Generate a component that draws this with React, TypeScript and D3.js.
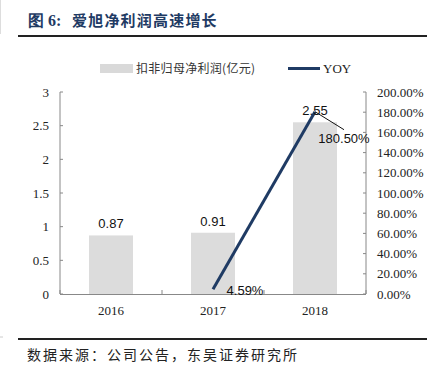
import React from "react";
import * as d3 from "d3";

const categories = ["2016", "2017", "2018"];
const profit = [0.87, 0.91, 2.55];
const yoy: (number | null)[] = [null, 4.59, 180.5];
const profitLabels = ["0.87", "0.91", "2.55"];
const yoyLabels = ["", "4.59%", "180.50%"];
const leftTicks = [0, 0.5, 1, 1.5, 2, 2.5, 3];
const rightTicks = [0, 20, 40, 60, 80, 100, 120, 140, 160, 180, 200];
const titlePrefix = "图 6:";
const title = "爱旭净利润高速增长";
const source = "数据来源：公司公告，东吴证券研究所";
const legendBar = "扣非归母净利润(亿元)";
const legendLine = "YOY";

const W = 435, H = 376;
const left = 60, right = 366, top = 92, bottom = 294;
const navy = "#1F3B64";
const serif = "'Liberation Serif', 'Times New Roman', serif";
const sans = "'Liberation Sans', Arial, sans-serif";
const cjk = "'Noto Sans CJK SC', sans-serif";

export default function App() {
  const x = d3.scaleBand<string>().domain(categories).range([left, right]).paddingInner(0).paddingOuter(0);
  const yL = d3.scaleLinear().domain([0, 3]).range([bottom, top]);
  const yR = d3.scaleLinear().domain([0, 200]).range([bottom, top]);
  const bw = 44;
  const cx = (c: string) => (x(c) as number) + x.bandwidth() / 2;
  const linePts = categories
    .map((c, i) => ({ c, v: yoy[i] }))
    .filter((d) => d.v !== null) as { c: string; v: number }[];
  const lineGen = d3.line<{ c: string; v: number }>().x((d) => cx(d.c)).y((d) => yR(d.v));
  const boundaries = [left, ...categories.map((c) => (x(c) as number) + x.bandwidth())];

  return (
    <svg width={W} height={H} style={{ position: "absolute", left: 0, top: 0, background: "#fff" }}>
      <line x1={0.5} y1={0} x2={0.5} y2={34} stroke="#ddd" strokeWidth={1} />
      <line x1={0} y1={337} x2={3} y2={337} stroke="#ccc" strokeWidth={1} />
      <text x={28} y={26} fontFamily={serif} fontWeight="bold" fontSize={16} fill={navy}>{titlePrefix}</text>
      <text x={72} y={26} fontFamily={cjk} fontWeight="bold" fontSize={15} letterSpacing={1.2} fill={navy}>{title}</text>
      <line x1={18} y1={36} x2={427} y2={36} stroke="#222" strokeWidth={2} />
      <rect x={100} y={64} width={33} height={9} fill="#D9D9D9" />
      <text x={136} y={73} fontFamily={cjk} fontSize={12} letterSpacing={0.3} fill="#333">{legendBar}</text>
      <line x1={288} y1={68.5} x2={320} y2={68.5} stroke={navy} strokeWidth={3} />
      <text x={323} y={73} fontFamily={serif} fontSize={13} fill="#222">{legendLine}</text>
      {categories.map((c, i) => (
        <rect key={c} x={cx(c) - bw / 2} y={yL(profit[i])} width={bw} height={bottom - yL(profit[i])} fill="#DCDCDC" />
      ))}
      <line x1={left} y1={top} x2={left} y2={bottom} stroke="#888" />
      <line x1={right} y1={top} x2={right} y2={bottom} stroke="#888" />
      <line x1={left} y1={bottom + 0.5} x2={right} y2={bottom + 0.5} stroke="#888" />
      {leftTicks.map((t) => (
        <g key={"l" + t}>
          <line x1={left} x2={left + 3} y1={yL(t)} y2={yL(t)} stroke="#888" />
          <text x={49} y={yL(t) + 4.5} textAnchor="end" fontFamily={serif} fontSize={13} fill="#222">{t}</text>
        </g>
      ))}
      {rightTicks.map((t) => (
        <g key={"r" + t}>
          <line x1={right - 3} x2={right} y1={yR(t)} y2={yR(t)} stroke="#888" />
          <text x={377} y={yR(t) + 4.5} fontFamily={serif} fontSize={13} fill="#222">{t.toFixed(2) + "%"}</text>
        </g>
      ))}
      {boundaries.map((b, i) => (
        <line key={"b" + i} x1={b} x2={b} y1={bottom - 4} y2={bottom} stroke="#888" />
      ))}
      {categories.map((c) => (
        <text key={"x" + c} x={cx(c)} y={315} textAnchor="middle" fontFamily={serif} fontSize={13} fill="#222">{c}</text>
      ))}
      <path d={lineGen(linePts) || ""} fill="none" stroke={navy} strokeWidth={3} />
      {categories.map((c, i) => (
        <text key={"bl" + c} x={cx(c)} y={yL(profit[i]) - 7} textAnchor="middle" fontFamily={sans} fontSize={13} fill="#111">{profitLabels[i]}</text>
      ))}
      <text x={cx(categories[1]) + 32} y={yR(yoy[1] as number) + 6} textAnchor="middle" fontFamily={sans} fontSize={13} fill="#111">{yoyLabels[1]}</text>
      <line x1={cx(categories[2])} y1={yR(yoy[2] as number)} x2={cx(categories[2]) + 29} y2={yR(yoy[2] as number) + 18} stroke="#111" strokeWidth={1} />
      <text x={cx(categories[2]) + 29} y={yR(yoy[2] as number) + 31} textAnchor="middle" fontFamily={sans} fontSize={13} fill="#111">{yoyLabels[2]}</text>
      <line x1={18} y1={339} x2={427} y2={339} stroke="#222" strokeWidth={2} />
      <text x={27} y={360} fontFamily={cjk} fontSize={14} letterSpacing={2} fill="#222">{source}</text>
    </svg>
  );
}
